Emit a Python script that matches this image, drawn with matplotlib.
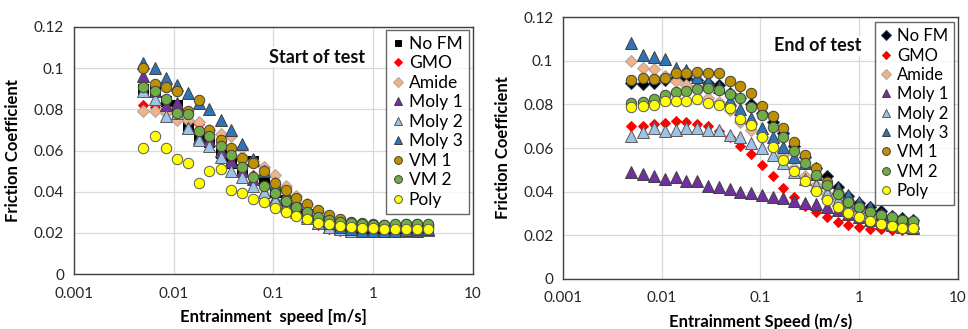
import numpy as np
import matplotlib.pyplot as plt
from matplotlib.ticker import FixedLocator, NullLocator

plt.rcParams['font.family'] = ['Lato', 'DejaVu Sans']

# Entrainment speed (m/s), same steps in both tests
speed = [0.0049, 0.0065, 0.0083, 0.0108, 0.014, 0.0178, 0.0228, 0.0295, 0.0377,
         0.0488, 0.062, 0.080, 0.103, 0.133, 0.170, 0.219, 0.282, 0.365, 0.467,
         0.605, 0.776, 1.0, 1.29, 1.66, 2.13, 2.74, 3.52]

series_names = ['No FM', 'GMO', 'Amide', 'Moly 1', 'Moly 2', 'Moly 3', 'VM 1', 'VM 2', 'Poly']

# Start of test
start_nofm = [0.090, 0.089, 0.084, 0.082, 0.072, 0.067, 0.064, 0.059, 0.054, 0.051, 0.055, 0.045, 0.040,
              0.036, 0.032, 0.029, 0.026, 0.024, 0.023, 0.022, 0.0215, 0.0215, 0.022, 0.022, 0.022, 0.022, 0.022]
start_gmo = [0.082, 0.081, 0.080, 0.079, 0.074, 0.073, 0.068, 0.064, 0.058, 0.052, 0.048, 0.043, 0.039,
             0.035, 0.031, 0.027, 0.024, 0.022, 0.021, 0.021, 0.021, 0.021, 0.021, 0.021, 0.0215, 0.022, 0.022]
start_amide = [0.079, 0.079, 0.078, 0.075, 0.075, 0.074, 0.070, 0.068, 0.067, 0.061, 0.055, 0.052, 0.048,
               0.043, 0.038, 0.034, 0.030, 0.027, 0.025, 0.024, 0.023, 0.023, 0.023, 0.023, 0.023, 0.023, 0.023]
start_moly1 = [0.096, 0.089, 0.082, 0.083, 0.071, 0.066, 0.065, 0.060, 0.055, 0.050, 0.046, 0.040, 0.037,
               0.034, 0.031, 0.028, 0.025, 0.023, 0.022, 0.021, 0.021, 0.021, 0.021, 0.021, 0.021, 0.021, 0.0215]
start_moly2 = [0.089, 0.085, 0.077, 0.078, 0.071, 0.065, 0.062, 0.057, 0.050, 0.047, 0.043, 0.040, 0.036,
               0.033, 0.030, 0.027, 0.025, 0.023, 0.022, 0.021, 0.021, 0.021, 0.021, 0.021, 0.021, 0.0215, 0.0215]
start_moly3 = [0.1025, 0.100, 0.095, 0.092, 0.088, 0.083, 0.080, 0.075, 0.070, 0.063, 0.056, 0.050, 0.044,
               0.039, 0.035, 0.031, 0.028, 0.025, 0.023, 0.022, 0.021, 0.021, 0.021, 0.021, 0.0215, 0.022, 0.022]
start_vm1 = [0.100, 0.0925, 0.091, 0.089, 0.079, 0.0845, 0.070, 0.065, 0.061, 0.0565, 0.054, 0.050, 0.044,
             0.041, 0.037, 0.034, 0.031, 0.0287, 0.0265, 0.0255, 0.0247, 0.0243, 0.024, 0.024, 0.0242, 0.0242, 0.024]
start_vm2 = [0.091, 0.089, 0.085, 0.078, 0.0775, 0.0695, 0.067, 0.062, 0.0576, 0.052, 0.047, 0.043, 0.0395,
             0.0353, 0.0327, 0.030, 0.0278, 0.0262, 0.0252, 0.0246, 0.0243, 0.024, 0.024, 0.0243, 0.0245, 0.0245, 0.0243]
start_poly = [0.061, 0.067, 0.061, 0.056, 0.054, 0.044, 0.050, 0.051, 0.041, 0.0395, 0.0365, 0.035, 0.032,
              0.030, 0.028, 0.0265, 0.025, 0.0245, 0.0235, 0.023, 0.0225, 0.0222, 0.022, 0.022, 0.022, 0.022, 0.0218]

# End of test
end_nofm = [0.0897, 0.0894, 0.090, 0.091, 0.092, 0.092, 0.091, 0.090, 0.089, 0.085, 0.083, 0.080, 0.076,
            0.072, 0.067, 0.061, 0.056, 0.051, 0.047, 0.042, 0.038, 0.035, 0.033, 0.031, 0.029, 0.028, 0.027]
end_gmo = [0.070, 0.0703, 0.071, 0.0716, 0.0726, 0.0718, 0.071, 0.0703, 0.068, 0.0652, 0.061, 0.0571, 0.0522,
           0.0471, 0.0419, 0.0377, 0.0334, 0.0305, 0.0282, 0.0262, 0.0246, 0.0236, 0.023, 0.0227, 0.0223, 0.0223, 0.0227]
end_amide = [0.0997, 0.0966, 0.0963, 0.093, 0.0905, 0.0889, 0.088, 0.083, 0.081, 0.0775, 0.072, 0.0683, 0.065,
             0.0606, 0.057, 0.051, 0.047, 0.043, 0.039, 0.036, 0.033, 0.031, 0.029, 0.027, 0.026, 0.025, 0.024]
end_moly1 = [0.0488, 0.048, 0.0471, 0.046, 0.0468, 0.0448, 0.0448, 0.0427, 0.0422, 0.0412, 0.040, 0.0392, 0.0384,
             0.0377, 0.0369, 0.0358, 0.0346, 0.0343, 0.0328, 0.0315, 0.030, 0.0285, 0.027, 0.0257, 0.0246, 0.0239, 0.0234]
end_moly2 = [0.0655, 0.0675, 0.0693, 0.0678, 0.0683, 0.0693, 0.069, 0.0683, 0.0683, 0.066, 0.0652, 0.0621, 0.0598,
             0.0568, 0.053, 0.049, 0.046, 0.043, 0.0392, 0.0361, 0.0334, 0.0308, 0.0285, 0.027, 0.0254, 0.0245, 0.0239]
end_moly3 = [0.108, 0.1027, 0.1016, 0.1007, 0.0966, 0.0958, 0.0925, 0.0905, 0.0879, 0.082, 0.078, 0.0736, 0.069,
             0.065, 0.0606, 0.056, 0.053, 0.048, 0.0445, 0.0415, 0.0384, 0.0354, 0.033, 0.030, 0.0285, 0.027, 0.0257]
end_vm1 = [0.0912, 0.092, 0.0918, 0.0923, 0.0946, 0.0943, 0.0947, 0.0946, 0.0943, 0.0905, 0.0885, 0.085, 0.0794,
           0.0747, 0.069, 0.063, 0.0568, 0.0507, 0.0445, 0.0395, 0.0354, 0.033, 0.0308, 0.0288, 0.0277, 0.027, 0.0262]
end_vm2 = [0.0808, 0.0813, 0.0824, 0.0843, 0.0859, 0.0863, 0.087, 0.0874, 0.0866, 0.0848, 0.0828, 0.079, 0.0752,
           0.0698, 0.0649, 0.0588, 0.053, 0.0476, 0.043, 0.0389, 0.0354, 0.0328, 0.0308, 0.0292, 0.0282, 0.0272, 0.0266]
end_poly = [0.079, 0.0793, 0.0797, 0.0817, 0.0814, 0.0814, 0.0824, 0.0805, 0.0797, 0.0782, 0.0733, 0.0706, 0.0652,
            0.0606, 0.0545, 0.0496, 0.0448, 0.0403, 0.0361, 0.033, 0.0303, 0.0282, 0.0266, 0.0251, 0.0242, 0.0234, 0.0233]

start_data = [start_nofm, start_gmo, start_amide, start_moly1, start_moly2, start_moly3, start_vm1, start_vm2, start_poly]
end_data = [end_nofm, end_gmo, end_amide, end_moly1, end_moly2, end_moly3, end_vm1, end_vm2, end_poly]

# marker, size, face colour, edge colour
styles_start = [('s', 6.5, '#000000', '#000000'),
                ('D', 5.5, '#FF0000', '#FF0000'),
                ('D', 6.5, '#F4B183', '#A6A6A6'),
                ('^', 8, '#7030A0', '#404040'),
                ('^', 8, '#9DC3E6', '#595959'),
                ('^', 8, '#2E75B6', '#404040'),
                ('o', 7.5, '#BF9000', '#404040'),
                ('o', 7.5, '#70AD47', '#404040'),
                ('o', 7.5, '#FFFF00', '#595959')]
styles_end = [('D', 6.5, '#000000', '#1F3864')] + styles_start[1:]

xticks = [0.001, 0.01, 0.1, 1, 10]
xticklabels = ['0.001', '0.01', '0.1', '1', '10']
yticks = [0, 0.02, 0.04, 0.06, 0.08, 0.1, 0.12]
yticklabels = ['0', '0.02', '0.04', '0.06', '0.08', '0.1', '0.12']

fig = plt.figure(figsize=(9.68, 3.29), dpi=100)
ax1 = fig.add_axes([0.0764, 0.167, 0.412, 0.751])
ax2 = fig.add_axes([0.5816, 0.152, 0.408, 0.796])


def draw(ax, data, styles, title, xlabel, title_pos, legend_anchor, legend_size):
    for name, vals, (m, ms, fc, ec) in zip(series_names, data, styles):
        ax.plot(speed, vals, linestyle='none', marker=m, markersize=ms,
                markerfacecolor=fc, markeredgecolor=ec, markeredgewidth=0.7, label=name)
    ax.set_xscale('log')
    ax.set_xlim(0.001, 10)
    ax.set_ylim(0, 0.12)
    ax.xaxis.set_major_locator(FixedLocator(xticks))
    ax.xaxis.set_minor_locator(NullLocator())
    ax.set_xticklabels(xticklabels)
    ax.set_yticks(yticks)
    ax.set_yticklabels(yticklabels)
    ax.tick_params(length=0, labelsize=11, colors='#262626')
    ax.tick_params(axis='x', pad=9)
    ax.tick_params(axis='y', pad=7)
    ax.grid(True, color='#D9D9D9', linewidth=0.9)
    ax.set_axisbelow(True)
    for sp in ax.spines.values():
        sp.set_color('#404040')
        sp.set_linewidth(1.0)
    ax.set_ylabel('Friction Coefficient', fontsize=12, fontweight='bold', labelpad=9)
    ax.set_xlabel(xlabel, fontsize=12, fontweight='bold', labelpad=6)
    ax.text(title_pos[0], title_pos[1], title, transform=ax.transAxes, fontsize=13,
            fontweight='bold', color='#0D0D0D', ha='center', va='center',
            bbox=dict(facecolor='white', edgecolor='none', pad=1))
    leg = ax.legend(loc='upper right', bbox_to_anchor=legend_anchor, fontsize=legend_size,
                    frameon=True, fancybox=False, markerscale=0.75, handlelength=0.6,
                    handletextpad=0.35, labelspacing=0.2, borderpad=0.35, borderaxespad=0)
    leg.get_frame().set_edgecolor('#404040')
    leg.get_frame().set_linewidth(1.0)


draw(ax1, start_data, styles_start, 'Start of test', 'Entrainment  speed [m/s]',
     (0.609, 0.878), (0.99, 0.988), 12.5)
draw(ax2, end_data, styles_end, 'End of test', 'Entrainment Speed (m/s)',
     (0.646, 0.89), (0.99, 0.98), 12)

fig.savefig('out.png', dpi=100)
